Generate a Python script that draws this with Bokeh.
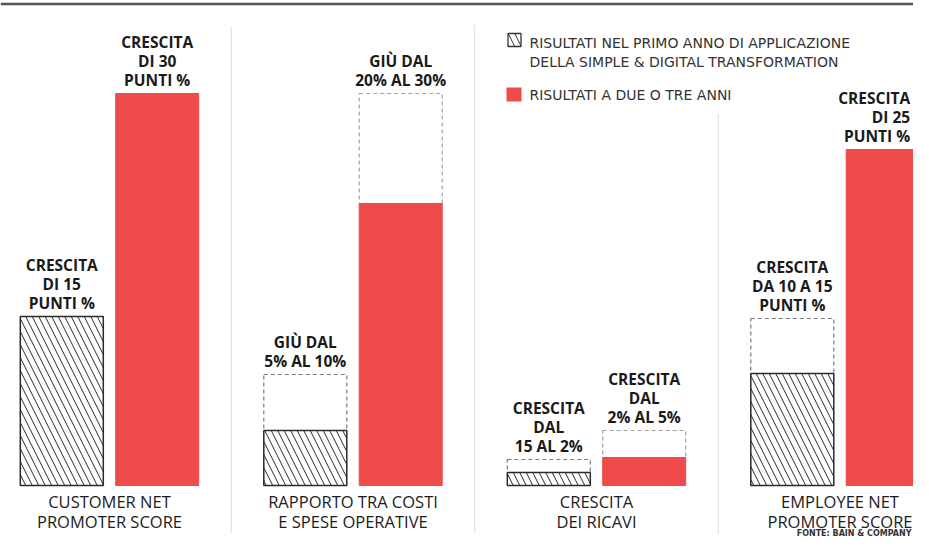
from bokeh.plotting import figure
from bokeh.models import ColumnDataSource, Range1d, CDSView, BooleanFilter, IndexFilter
from bokeh.transform import dodge
from bokeh.core.properties import value
from bokeh.embed import file_html
from bokeh.resources import INLINE

# ---- data (heights, in the chart's own units) ----
categories = ["CUSTOMER NET\nPROMOTER SCORE",
              "RAPPORTO TRA COSTI\nE SPESE OPERATIVE",
              "CRESCITA\nDEI RICAVI",
              "EMPLOYEE NET\nPROMOTER SCORE"]
first_year_low = [169, 55, 13, 112]
first_year_high = [169, 111, 26, 167]
later_low = [392, 282, 28, 336]
later_high = [392, 392, 55, 336]
first_year_labels = ["CRESCITA\nDI 15\nPUNTI %",
                     "GIÙ DAL\n5% AL 10%",
                     "CRESCITA\nDAL\n15 AL 2%",
                     "CRESCITA\nDA 10 A 15\nPUNTI %"]
later_labels = ["CRESCITA\nDI 30\nPUNTI %",
                "GIÙ DAL\n20% AL 30%",
                "CRESCITA\nDAL\n2% AL 5%",
                "CRESCITA\nDI 25\nPUNTI %"]
legend_first = "RISULTATI NEL PRIMO ANNO DI APPLICAZIONE\nDELLA SIMPLE & DIGITAL TRANSFORMATION"
legend_later = "RISULTATI A DUE O TRE ANNI"
source_note = "FONTE: BAIN & COMPANY"

RED = "#ef4b4b"
DARK = "#1c1c1c"

W, H = 913, 536
GROUP_PX = 243.5          # pixels per category step
ORIGIN_PX = 109           # pixel centre of the first category
BASE_PX = 485             # pixel row of the baseline


def xd(px):
    return (px - ORIGIN_PX) / GROUP_PX


def yd(py):
    return BASE_PX - py


OFF = 47.7 / GROUP_PX
BW = 83 / GROUP_PX

p = figure(width=W, height=H, output_backend="svg", toolbar_location=None,
           x_range=Range1d(xd(0), xd(W)), y_range=Range1d(yd(H), yd(0)),
           min_border=0, min_border_left=0, min_border_right=0,
           min_border_top=0, min_border_bottom=0)
p.axis.visible = False
p.grid.visible = False
p.outline_line_color = None
p.background_fill_color = "white"

idx = list(range(len(categories)))
src = ColumnDataSource(dict(idx=idx, cat=categories,
                            first_low=first_year_low, first_high=first_year_high,
                            later_low=later_low, later_high=later_high,
                            first_lab=first_year_labels, later_lab=later_labels))

# top rule
p.segment(x0=[xd(0)], x1=[xd(W)], y0=[yd(3.5)], y1=[yd(3.5)],
          line_color="#555555", line_width=2.5)

# dotted dividers between categories
p.segment(x0=[0.5, 1.5, 2.5], x1=[0.5, 1.5, 2.5],
          y0=[yd(27), yd(25), yd(114)], y1=[yd(533)] * 3,
          line_color="#b8b8b8", line_width=1, line_dash="1 1")

view_first = CDSView(filter=BooleanFilter([h > l for h, l in zip(first_year_high, first_year_low)]))
view_later = CDSView(filter=BooleanFilter([h > l for h, l in zip(later_high, later_low)]))

# dashed range boxes
p.vbar(x=dodge("idx", -OFF), width=BW, bottom="first_low", top="first_high",
       source=src, view=view_first, fill_color=None,
       line_color="#7a7a7a", line_width=1.2, line_dash="4 3")
p.vbar(x=dodge("idx", OFF), width=BW, bottom="later_low", top="later_high",
       source=src, view=view_later, fill_color=None,
       line_color="#a0a0a0", line_width=1.2, line_dash="4 3")

# first-year hatched bars
p.vbar(x=dodge("idx", -OFF), width=BW, bottom=0, top="first_low", source=src,
       fill_color="white", hatch_pattern="\\", hatch_color="#2a2a2a",
       hatch_weight=1, hatch_scale=13, line_color="#2a2a2a", line_width=1.5)

# later red bars
p.vbar(x=dodge("idx", OFF), width=BW, bottom=0, top="later_low", source=src,
       fill_color=RED, line_color=RED, line_width=1)

# value annotations
ann = dict(text_baseline="bottom", y_offset=-2,
           text_font=value("Open Sans"), text_font_style="bold",
           text_font_size="15.5px", text_line_height=0.88, text_color="#1a1a1a")
p.text(x=dodge("idx", -OFF), y="first_high", text="first_lab", source=src,
       text_align="center", **ann)
n = len(categories)
p.text(x=dodge("idx", OFF), y="later_high", text="later_lab", source=src,
       view=CDSView(filter=IndexFilter(list(range(n - 1)))),
       text_align="center", **ann)
# last label sits at the right edge of the page: keep it fully visible
p.text(x=dodge("idx", OFF + BW / 2), y="later_high", text="later_lab", source=src,
       view=CDSView(filter=IndexFilter([n - 1])), x_offset=-19,
       text_align="right", **ann)

# category labels
p.text(x="idx", y=0, text="cat", source=src, text_align="center",
       text_baseline="top", y_offset=4, text_font=value("Open Sans"),
       text_font_size="16.5px", text_line_height=0.9, text_color=DARK)

# legend
p.rect(x=[xd(514)], y=[yd(39.5)], width=13 / GROUP_PX, height=13,
       fill_color="white", hatch_pattern="\\", hatch_color="#333333",
       hatch_scale=13, hatch_weight=1, line_color="#333333", line_width=1.3)
p.rect(x=[xd(513.5)], y=[yd(94)], width=15 / GROUP_PX, height=14,
       fill_color=RED, line_color=None)
p.text(x=[xd(529)], y=[yd(52)], text=[legend_first], text_align="left",
       text_baseline="middle", text_font=value("DejaVu Sans"),
       text_font_size="14px", text_line_height=1.13, text_color="#333333")
p.text(x=[xd(529)], y=[yd(94)], text=[legend_later], text_align="left",
       text_baseline="middle", text_font=value("DejaVu Sans"),
       text_font_size="14px", text_color="#333333")

# source note
p.text(x=[xd(911)], y=[yd(532.5)], text=[source_note], text_align="right",
       text_baseline="middle", text_font=value("DejaVu Sans"),
       text_font_style="bold", text_font_size="8px", text_color="#333333")

open("out.html", "w").write(file_html(p, INLINE))
